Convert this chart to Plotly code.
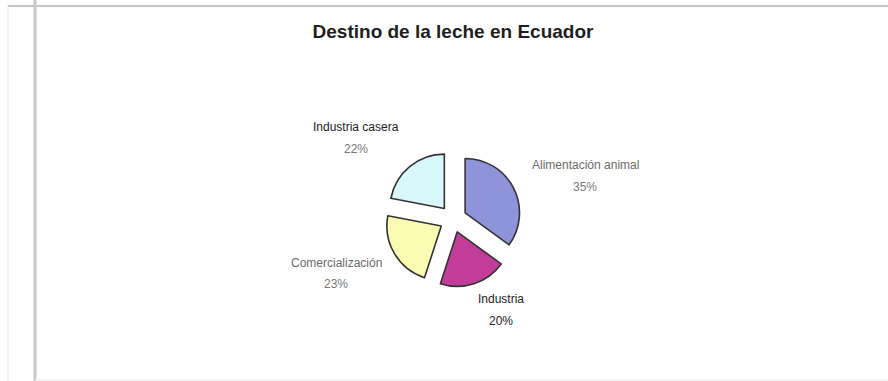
import plotly.graph_objects as go

# Destino de la leche en Ecuador (porcentaje del total)
categorias = ["Alimentación animal", "Industria", "Comercialización", "Industria casera"]
porcentajes = [35, 20, 23, 22]
colores = ["#8e93da", "#c23d99", "#fbfbb4", "#d9f8fb"]

W, H = 888, 381

# centre and size of the pie in pixels
cx, cy, box = 453, 219, 136
pull = 0.25

fig = go.Figure(go.Pie(
    labels=categorias,
    values=porcentajes,
    sort=False,
    direction="clockwise",
    rotation=0,
    pull=[pull] * len(categorias),
    marker=dict(colors=colores, line=dict(color="#333333", width=1.6)),
    textinfo="none",
    hoverinfo="label+percent",
    showlegend=False,
    domain=dict(x=[(cx - box / 2) / W, (cx + box / 2) / W],
                y=[1 - (cy + box / 2) / H, 1 - (cy - box / 2) / H]),
))

# label placement (pixels): name line, percent line, colours
etiquetas = [
    # categoria, x, y_nombre, y_pct, color_nombre, color_pct
    ("Alimentación animal", 585, 165, 187, "#6a6a6a", "#777777"),
    ("Industria", 501, 299, 321, "#222222", "#222222"),
    ("Comercialización", 336, 263, 284, "#6a6a6a", "#777777"),
    ("Industria casera", 356, 127, 149, "#222222", "#777777"),
]
total = sum(porcentajes)
anotaciones = []
for (nombre, x, yn, yp, cn, cp), v in zip(etiquetas, porcentajes):
    anotaciones.append(dict(x=x / W, y=1 - yn / H, xref="paper", yref="paper",
                            xanchor="center", yanchor="middle",
                            text=nombre, showarrow=False,
                            font=dict(family="Liberation Sans, Arial", size=12, color=cn)))
    anotaciones.append(dict(x=x / W, y=1 - yp / H, xref="paper", yref="paper",
                            xanchor="center", yanchor="middle",
                            text=f"{round(100 * v / total)}%", showarrow=False,
                            font=dict(family="Liberation Sans, Arial", size=12, color=cp)))

# page frame lines
marcos = [
    dict(type="line", xref="paper", yref="paper", x0=8 / W, x1=1, y0=1 - 6 / H, y1=1 - 6 / H,
         line=dict(color="#c4c4c4", width=2)),
    dict(type="line", xref="paper", yref="paper", x0=35 / W, x1=35 / W, y0=0, y1=1,
         line=dict(color="#c8c8c8", width=3)),
    dict(type="line", xref="paper", yref="paper", x0=8 / W, x1=8 / W, y0=0, y1=1 - 6 / H,
         line=dict(color="#ececec", width=1.5)),
    dict(type="line", xref="paper", yref="paper", x0=35 / W, x1=1, y0=1 / H, y1=1 / H,
         line=dict(color="#f0f0f0", width=1.5)),
]

fig.update_layout(
    width=W, height=H,
    margin=dict(l=0, r=0, t=0, b=0),
    paper_bgcolor="white",
    plot_bgcolor="white",
    title=dict(text="<b>Destino de la leche en Ecuador</b>",
               x=453 / W, xanchor="center", y=1 - 31 / H, yanchor="middle",
               font=dict(family="Liberation Sans, Arial", size=19, color="#1e1e1e")),
    annotations=anotaciones,
    shapes=marcos,
)

fig.write_html("out.html")
